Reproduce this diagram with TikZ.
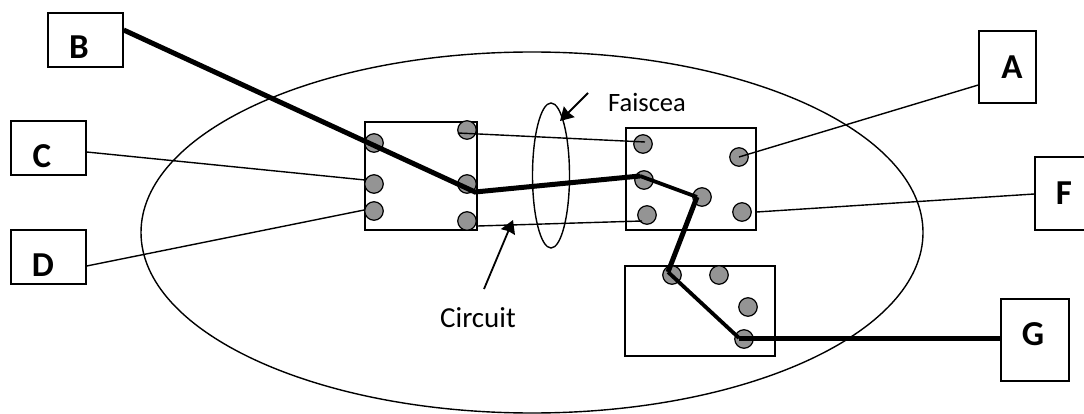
\documentclass[tikz,border=0pt]{standalone}
\usepackage{fontspec}
\setmainfont{Carlito}
\usepackage{tikz}
\usetikzlibrary{arrows.meta}
\begin{document}
\begin{tikzpicture}[x=1pt,y=-1pt,
			boite/.style = {shape=rectangle, draw, line width=1.4pt, minimum width=75pt, minimum height=54pt, inner sep=0pt},
			lettre/.style = {inner sep=0pt, font=\fontsize{35}{35}\selectfont\bfseries},
			bloc/.style = {shape=rectangle, draw, line width=1.4pt, inner sep=0pt},
			plot/.style = {shape=circle, draw, line width=1.2pt, fill=black!42, minimum size=18.5pt, inner sep=0pt},
			fil/.style = {line width=1.4pt},
			gros/.style = {line width=5pt},
			moyen/.style = {line width=3.8pt},
			fleche/.style = {line width=1.8pt, -{Stealth[length=13pt,width=15pt,inset=1pt]}},
			legende/.style = {inner sep=0pt}]
			\useasboundingbox (0,0) rectangle (1084,414);
			\node[bloc, minimum width=112pt, minimum height=108pt] (b1) at (421,176) {};
			\node[bloc, minimum width=130pt, minimum height=102pt] (b2) at (691,179) {};
			\node[bloc, minimum width=150pt, minimum height=90pt] (b3) at (700,311) {};
			\draw[line width=1.4pt] (532,232.5) ellipse (391 and 180.5);
			\draw[line width=1.4pt] (551,175.5) ellipse (18.5 and 72.5);
			\node[plot] (p1) at (374,143) {};
			\node[plot] (p2) at (374,184) {};
			\node[plot] (p3) at (374,211) {};
			\node[plot] (p4) at (467,130) {};
			\node[plot] (p5) at (467,184) {};
			\node[plot] (p6) at (467,221) {};
			\node[plot] (p7) at (643,144) {};
			\node[plot] (p8) at (644,180) {};
			\node[plot] (p9) at (702,197) {};
			\node[plot] (p10) at (647,215) {};
			\node[plot] (p11) at (739,157) {};
			\node[plot] (p12) at (742,212) {};
			\node[plot] (p13) at (672,275) {};
			\node[plot] (p14) at (719,275) {};
			\node[plot] (p15) at (748,307) {};
			\node[plot] (p16) at (744,339) {};
			\node[boite] (B) at (85.5,40) {};
			\node[boite] (C) at (48.5,148) {};
			\node[boite] (D) at (48.5,257) {};
			\node[boite, minimum width=57pt, minimum height=72pt] (A) at (1007.5,67) {};
			\node[boite, minimum width=56pt, minimum height=73pt] (F) at (1063,193.5) {};
			\node[boite, minimum width=68pt, minimum height=82pt] (G) at (1035,340) {};
			\node[lettre] (tB) at (79,47) {B};
			\node[lettre] (tC) at (42,156) {C};
			\node[lettre] (tD) at (43,265) {D};
			\node[lettre] (tA) at (1012,67) {A};
			\node[lettre] (tF) at (1064,193) {F};
			\node[lettre] (tG) at (1033,334) {G};
			\coordinate (coude1) at (475,192);
			\coordinate (coude2) at (640,176);
			\coordinate (coude3) at (697,197);
			\coordinate (coude4) at (668,272);
			\coordinate (coude5) at (739,338);
			\draw[fil] (C.east |- 0,152) -- ([yshift=4pt,xshift=1pt]p2.west);
			\draw[fil] (D.east |- 0,266) -- ([yshift=1pt]p3.west);
			\draw[fil] ([xshift=-9pt,yshift=-3pt]p4.center) -- ([xshift=2pt,yshift=2pt]p7.center);
			\draw[fil] (b1.east |- 0,226) -- ([xshift=-5pt,yshift=-6pt]p10.center);
			\draw[fil] (A.west |- 0,85) -- ([yshift=0pt]p11.center);
			\draw[fil] (F.west |- 0,194) -- (b2.east |- 0,212);
			\draw[gros] (B.east |- 0,30) -- (coude1) -- (coude2);
			\draw[moyen] (coude2) -- (coude3);
			\draw[gros] (coude3) -- (coude4);
			\draw[moyen] (coude4) -- (coude5);
			\draw[gros] (coude5) -- (G.west |- coude5);
			\node[legende, font=\fontsize{26.5}{26.5}\selectfont] (faiscea) at (647,102) {Faiscea};
			\node[legende, font=\fontsize{29}{29}\selectfont] (circuit) at (478,318) {Circuit};
			\coordinate (f1) at (588,93);
			\coordinate (f2) at (560,121);
			\coordinate (c1) at (484,289);
			\coordinate (c2) at (513,220);
			\draw[fleche] (f1) -- (f2);
			\draw[fleche] (c1) -- (c2);
		\end{tikzpicture}
\end{document}
